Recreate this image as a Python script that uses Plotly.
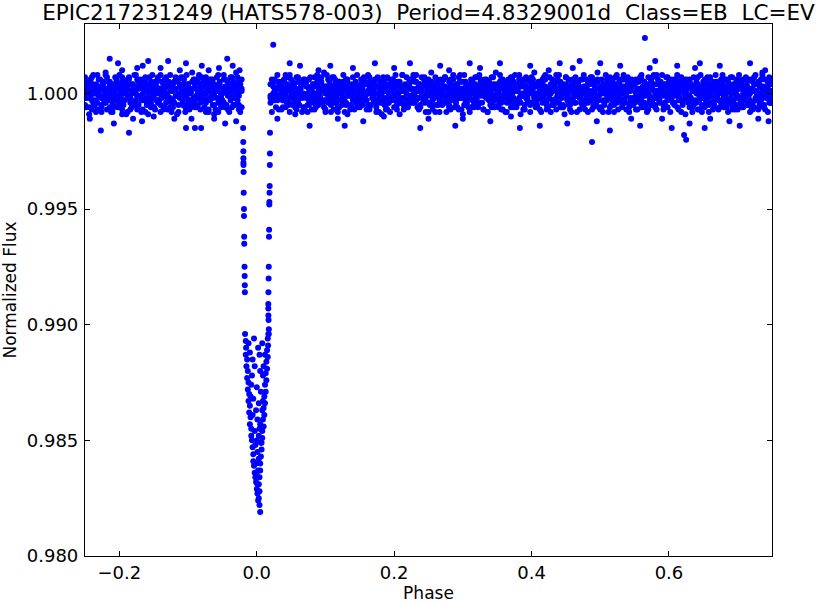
import plotly.graph_objects as go

# ---------------- data (phase in units of 1e-3, flux offsets in units of 1e-4) ----------------
band_phase_milli = [
    -250,-248,-246,-244,-242,-240,-238,-236,-234,-232,-230,-228,-226,-224,-222,-220,-218,-216,-214,-212,
    -210,-208,-206,-204,-202,-200,-198,-196,-194,-192,-190,-188,-186,-184,-182,-180,-178,-176,-174,-172,
    -170,-168,-166,-164,-162,-160,-158,-156,-154,-152,-150,-148,-146,-144,-142,-140,-138,-136,-134,-132,
    -130,-128,-126,-124,-122,-120,-118,-116,-114,-112,-110,-108,-106,-104,-102,-100,-98,-96,-94,-92,
    -90,-88,-86,-84,-82,-80,-78,-76,-74,-72,-70,-68,-66,-64,-62,-60,-58,-56,-54,-52,
    -50,-48,-46,-44,-42,-40,-38,-36,-34,-32,-30,-28,-26,-24,-22,
    20,22,24,26,28,30,32,34,36,38,40,42,44,46,48,50,52,54,56,58,
    60,62,64,66,68,70,72,74,76,78,80,82,84,86,88,90,92,94,96,98,
    100,102,104,106,108,110,112,114,116,118,120,122,124,126,128,130,132,134,136,138,
    140,142,144,146,148,150,152,154,156,158,160,162,164,166,168,170,172,174,176,178,
    180,182,184,186,188,190,192,194,196,198,200,202,204,206,208,210,212,214,216,218,
    220,222,224,226,228,230,232,234,236,238,240,242,244,246,248,250,252,254,256,258,
    260,262,264,266,268,270,272,274,276,278,280,282,284,286,288,290,292,294,296,298,
    300,302,304,306,308,310,312,314,316,318,320,322,324,326,328,330,332,334,336,338,
    340,342,344,346,348,350,352,354,356,358,360,362,364,366,368,370,372,374,376,378,
    380,382,384,386,388,390,392,394,396,398,400,402,404,406,408,410,412,414,416,418,
    420,422,424,426,428,430,432,434,436,438,440,442,444,446,448,450,452,454,456,458,
    460,462,464,466,468,470,472,474,476,478,480,482,484,486,488,490,492,494,496,498,
    500,502,504,506,508,510,512,514,516,518,520,522,524,526,528,530,532,534,536,538,
    540,542,544,546,548,550,552,554,556,558,560,562,564,566,568,570,572,574,576,578,
    580,582,584,586,588,590,592,594,596,598,600,602,604,606,608,610,612,614,616,618,
    620,622,624,626,628,630,632,634,636,638,640,642,644,646,648,650,652,654,656,658,
    660,662,664,666,668,670,672,674,676,678,680,682,684,686,688,690,692,694,696,698,
    700,702,704,706,708,710,712,714,716,718,720,722,724,726,728,730,732,734,736,738,
    740,742,744,746,748,750,
]

band_flux_a = [
    3,-2,5,-6,1,7,-4,0,-8,2,6,-1,-5,4,-3,8,-7,1,5,-2,
    -4,2,7,-1,-6,3,0,-9,5,-3,1,6,-2,-7,4,2,-5,8,-1,3,
    6,-3,0,4,-8,2,-5,7,1,-2,-6,5,3,-4,0,8,-1,-7,2,6,
    -2,5,-6,1,3,-4,7,-1,-8,4,2,-3,6,0,-5,3,-7,1,5,-2,
    4,-1,-6,7,2,-3,0,5,-8,3,-2,6,1,-5,4,-7,2,8,-4,0,
    -3,6,1,-5,3,-1,7,-6,2,4,-2,0,5,-8,1,-4,6,3,-3,2,
    5,-7,2,0,-3,6,-1,4,-5,8,1,-2,3,-6,7,-4,0,2,-8,5,
    -1,3,-5,6,2,-7,4,0,-2,5,-4,1,7,-3,-6,3,8,-1,2,-5,
    7,0,-4,2,-6,5,1,-3,4,-8,6,-1,3,-5,2,0,-7,4,1,-2,
    -6,4,1,-2,5,-3,0,7,-5,2,-1,6,-4,3,-8,1,5,-2,4,-7,
    2,-4,6,-1,3,-6,8,0,-3,5,-2,1,-7,4,2,-5,6,-1,-3,7,
    0,5,-2,-7,4,1,-4,6,-1,3,-8,2,5,-3,0,7,-5,1,-2,4,
    -5,2,7,-3,1,-6,4,-1,6,0,-4,3,-2,8,-7,5,1,-3,2,-1,
    4,-6,0,3,-2,7,-5,1,5,-4,2,-1,6,-8,3,0,-3,4,-6,2,
    1,-3,5,-7,6,-1,2,-4,0,4,-6,7,-2,3,-5,1,8,-4,-1,5,
    -7,3,-1,5,-4,2,6,-2,0,-5,4,1,-8,3,7,-3,2,-6,1,4,
    3,-5,2,8,-1,-4,5,0,-6,3,1,-2,6,-7,4,-3,0,5,-1,2,
    -2,6,-4,1,-7,3,0,4,-3,7,-5,2,-1,5,-6,1,3,-8,4,0,
    6,-1,3,-5,2,-8,4,1,-3,6,0,-4,7,-2,1,5,-6,2,-3,4,
    -4,1,5,-2,7,-6,0,3,-1,4,-7,2,6,-3,1,-5,8,0,-2,3,
    2,-7,4,0,-3,5,-1,6,-4,1,3,-6,2,-2,7,-5,0,4,-1,-3,
    5,-2,-6,3,1,-4,7,-1,2,-8,4,0,-3,6,-5,2,1,-7,3,5,
    -1,4,-3,6,-5,0,2,-6,5,1,-2,7,-4,3,-1,-7,4,2,-5,6,
    3,0,-5,2,-3,6,-7,1,4,-2,5,-4,0,8,-6,2,-1,3,-4,1,
    -3,
]

band_flux_b = [
    -5,1,4,-2,6,-7,0,3,-3,8,-1,2,-6,5,1,-4,7,-2,3,-8,
    2,-6,0,5,-3,4,-1,7,-5,1,3,-8,6,-2,0,4,-4,2,-7,5,
    -1,3,-7,2,6,-4,1,-2,5,0,-6,4,-3,7,2,-5,1,-1,6,-4,
    4,-3,2,-8,1,5,-1,6,-5,3,0,-2,7,-6,2,4,-4,1,-3,6,
    -6,2,5,-1,-4,7,3,-3,0,4,-7,1,6,-2,-5,3,1,-8,5,-1,
    1,-4,6,2,-7,0,4,-2,5,-5,3,7,-1,2,-6,4,-3,0,6,-2,
    -3,5,-1,4,-6,2,8,-4,1,-2,6,-5,3,0,-7,5,2,-1,4,-6,
    6,-2,3,-5,1,-3,0,7,-6,4,2,-1,5,-4,3,-8,1,6,-2,0,
    -4,7,-2,1,5,-6,3,0,-3,2,-5,6,1,-7,4,-1,2,5,-6,3,
    2,-1,-5,6,-3,4,1,-7,5,0,-2,3,-6,7,-4,2,0,-3,6,-5,
    -7,4,2,-3,6,-1,5,-5,0,3,-4,8,-2,1,-6,4,3,-1,2,-4,
    5,-3,1,4,-6,2,-2,7,-4,0,6,-1,3,-5,1,-8,4,2,-3,6,
    0,6,-4,2,-1,5,-7,3,1,-3,4,-6,7,-2,2,0,-5,5,-1,3,
    -2,3,5,-6,4,-1,1,-4,6,2,-7,3,0,5,-3,1,-6,7,-2,4,
    3,-5,-1,6,-2,4,-8,2,0,5,-3,1,-6,4,2,-4,6,-1,3,-7,
    6,1,-3,2,-5,7,0,-2,4,-6,3,-1,5,-4,1,6,-7,2,-2,0,
    -5,3,2,-4,6,-1,4,-6,1,0,7,-3,2,-5,5,-2,-1,3,-8,4,
    1,-2,6,-5,3,2,-4,0,5,-7,4,1,-3,6,-1,2,-6,4,0,-3,
    -3,5,-6,1,4,-2,7,-4,2,-1,3,-5,6,0,-7,4,1,-2,5,-4,
    4,-7,2,0,-3,6,-1,5,-5,3,1,-4,2,7,-2,-6,4,1,-3,5,
    -1,2,-4,7,-6,3,0,-2,4,-5,6,1,-3,5,-8,2,3,-1,6,-4,
    6,-3,1,-5,2,4,-7,3,0,-1,5,-6,2,4,-2,7,-4,1,-5,2,
    -2,4,-6,3,5,-1,-3,6,-4,2,0,-7,4,1,-5,3,6,-2,2,-6,
    3,-1,5,-4,1,-6,2,7,-3,0,4,-5,6,-2,3,-7,1,5,-1,-4,
    -4,
]

band_flux_c = [
    1,-2,0,3,-1,4,-3,2,0,-4,1,3,-2,5,-1,0,2,-3,4,-1,
    -2,0,3,-1,2,-4,1,5,-3,0,2,-1,4,-2,1,-5,3,0,-1,2,
    3,-1,-3,1,4,-2,0,2,-4,3,-1,1,5,-3,0,2,-2,4,-1,0,
    0,4,-2,1,-3,2,5,-1,0,-2,3,-4,1,2,-1,4,-3,0,2,-5,
    -3,2,1,-1,4,0,-2,3,-4,1,5,-3,2,0,-1,3,-2,1,4,-2,
    2,-4,3,0,-1,2,-3,4,1,-2,0,3,-5,1,2,-1,4,-3,0,1,
    -1,3,-2,5,0,-3,1,2,-4,3,-1,0,4,-2,1,-3,2,5,-1,0,
    4,-1,0,-3,2,1,-4,3,0,-1,5,-2,1,3,-3,0,2,-4,1,3,
    -2,1,4,-1,-3,3,0,-2,5,1,-4,2,0,-1,3,-3,4,1,-2,0,
    1,-3,2,4,-1,0,-5,2,3,-2,1,4,-3,0,2,-1,-4,3,1,-2,
    3,0,-2,1,5,-3,2,-1,0,4,-4,1,3,-2,0,2,-3,5,-1,1,
    -4,2,1,-2,3,0,-1,4,-3,2,1,-5,3,0,-2,4,1,-1,2,-3,
    0,-1,3,2,-4,1,4,-2,0,3,-3,1,-1,5,2,-2,0,3,-4,1,
    2,4,-3,0,1,-2,3,-4,2,0,-1,4,-2,1,3,-5,0,2,-1,3,
    -1,0,2,-3,4,1,-2,3,-1,-4,2,0,5,-3,1,2,-2,4,0,-1,
    3,-2,1,0,-4,3,2,-1,4,-3,0,1,-2,5,-1,3,-4,0,2,1,
    -3,1,4,-2,0,2,-1,3,-5,1,4,-2,0,3,-3,1,2,-4,0,3,
    1,-4,0,3,2,-1,5,-3,1,0,-2,4,2,-1,-3,3,0,1,-4,2,
    -2,3,1,-1,-3,4,0,2,-2,5,1,-3,3,0,-1,2,-4,1,3,-2,
    4,0,-3,2,1,-2,3,-4,0,1,3,-1,-5,2,4,-2,1,0,-3,3,
    0,2,-1,4,-3,1,-2,3,2,-4,0,5,-1,1,-3,2,4,-2,0,-1,
    -1,3,2,-4,1,0,4,-3,-1,2,3,-2,1,-5,0,4,-1,2,-3,1,
    2,-3,0,1,4,-2,-1,3,1,-4,2,0,-3,4,1,-1,3,-2,5,0,
    -3,1,3,-1,0,2,-4,4,-2,1,0,3,-1,2,-5,1,3,-2,0,4,
    1,
]

band_flux_d = [
    7,-6,2,-9,5,-3,8,-5,4,-7,1,6,-8,3,-4,9,-2,5,-6,0,
    -8,4,-3,6,-5,8,-1,-7,3,5,-9,2,7,-4,-6,1,8,-3,6,-5,
    5,-8,6,-2,7,-5,-9,4,-6,8,3,-7,0,6,-3,-8,5,2,-6,7,
    -7,3,8,-4,-6,5,2,-9,6,-1,7,-5,4,-8,8,-3,1,-6,9,-4,
    6,-5,-2,8,-7,1,5,-6,7,-3,-8,4,-1,6,-9,3,7,-4,2,-6,
    -4,8,-6,3,5,-8,-1,7,-5,2,9,-3,-7,4,6,-2,-8,5,1,-6,
    8,-2,4,-7,-3,6,-6,2,7,-8,3,5,-4,-9,1,7,-5,4,-2,6,
    -6,5,-8,2,7,-1,4,-7,-3,8,-5,6,2,-4,9,-7,3,-2,5,-8,
    3,-7,6,-4,-8,5,1,-5,8,-2,6,-9,4,-1,-6,7,2,-4,8,-3,
    -5,6,-3,7,-1,-7,8,-6,2,5,-4,3,-8,6,-2,4,-9,7,-5,1,
    7,-4,-8,3,6,-2,4,-7,5,-9,1,8,-5,-3,7,-6,2,5,-4,8,
    -3,8,-6,4,-5,7,-2,6,-8,1,5,-4,9,-7,3,-1,6,-5,-8,2,
    5,-1,7,-8,2,-5,6,-3,8,-6,-2,4,-7,5,1,-9,8,-4,3,-6,
    -8,6,2,-5,7,-3,-6,8,-1,4,-7,6,3,-8,5,-2,7,-5,-3,9,
    2,-6,8,-4,-7,3,5,-8,6,-2,7,-5,1,8,-6,4,-3,-9,6,-1,
    -5,7,-2,6,-8,4,-4,9,-6,3,5,-7,-1,6,-3,8,-5,2,7,-8,
    6,-3,5,-7,1,8,-6,-2,4,-9,7,3,-5,2,-8,6,-4,7,-1,5,
    -7,2,-5,8,-3,6,-8,4,7,-1,-6,5,-4,9,2,-7,6,-3,-5,8,
    4,-8,7,-2,6,-5,-3,8,-7,5,2,-6,8,-4,-1,7,-8,3,6,-5,
    -2,6,-7,5,-4,8,1,-6,3,-8,7,-3,5,-5,8,-1,-7,6,-4,2,
    8,-5,3,-6,7,-2,-8,5,-4,6,-1,8,-7,3,5,-4,6,-9,2,-3,
    -6,4,-8,7,-3,5,2,-7,8,-5,-2,6,-4,7,-8,3,-1,5,-6,8,
    5,-7,1,-4,8,-6,6,-3,-8,4,7,-5,2,-7,6,-2,8,-4,-6,3,
    -3,7,-5,6,-8,2,5,-6,8,-1,-7,4,-3,9,-5,6,-2,-8,7,-4,
    6,
]

# scattered points outside the dense band
outlier_phase_milli = [
    -243,-227,-214,-208,-202,-196,-186,-180,-174,-167,-166,-158,-150,-140,-129,-120,-112,-103,-103,-95,
    -90,-81,-80,-70,-62,-55,-46,-43,-35,-30,-25,
    24,30,48,63,77,90,107,118,128,140,155,172,185,200,223,238,250,267,280,289,
    300,310,325,340,354,370,383,398,412,425,441,452,460,470,488,495,500,514,529,545,
    558,565,572,580,590,604,612,622,625,630,638,645,652,660,674,688,703,718,730,740,745,
]
outlier_flux_e4 = [
    -11,-16,15,-13,13,10,-17,-11,11,-12,12,14,-10,11,14,-11,10,13,-15,-11,
    -15,-15,12,10,-11,11,-13,15,12,-12,10,
    21,-11,13,12,-14,10,12,-11,-14,11,-12,13,-10,11,13,-15,-11,12,10,-14,
    -11,13,11,-12,13,-10,-15,12,-14,10,13,-13,11,14,-21,-12,13,-16,12,-11,
    -14,24,11,14,-11,-15,12,-18,-20,-13,11,13,-15,-11,12,-12,-14,13,-11,10,-12,
]

# eclipse: ingress, egress and bottom of the primary eclipse
eclipse_phase_milli = [
    -19.8,-19.6,-19.5,-19.4,-19.4,-19.3,-19.2,-19.0,-18.6,-18.6,-18.3,-18.2,-17.8,-17.6,-17.4,-17.3,
    19.3,19.2,19.0,18.8,18.6,18.4,18.3,18.0,17.8,17.5,17.3,17.0,16.8,16.8,16.9,17.2,17.6,17.4,
    -17,-16,-15.5,-16,-14,-15,-13,-14,-12,-13,-11,-12,-10,-11,-9,-10,-8,-8,-7,-6,-5,-5,-4,-3,-2,-1,0,1,2,4,5,
    17,16,16.5,15,16,14,15,13,14,12,13,11,12,10,11,9,10,8,8,7,7,6,5,5,4,3,4,3,
    -10,-6,2,8,12,-3,5,9,-8,0,6,-5,3,8,-6,1,5,-3,3,6,-2,1,3,-1,2,0,1,-7,10,-12,-4,4,-9,9,-1,0,4,
]
eclipse_flux_e4 = [
    -15,-21,-25,-28,-30,-31,-34,-43,-50,-53,-62,-65,-75,-79,-83,-86,
    -17,-26,-31,-40,-43,-47,-48,-59,-62,-75,-80,-86,-91,-93,-96,-98,-102,-104,
    -104,-107,-110,-113,-115,-118,-120,-123,-125,-128,-130,-133,-135,-138,-140,-143,-145,-148,-150,-153,
    -156,-159,-161,-164,-166,-168,-171,-173,-176,-178,-181,
    -104,-106,-109,-111,-114,-116,-119,-121,-124,-126,-129,-131,-134,-136,-139,-141,-144,-146,-149,-151,
    -154,-157,-160,-163,-166,-169,-172,-175,
    -112,-115,-110,-108,-113,-118,-120,-122,-126,-127,-129,-132,-134,-137,-139,-141,-143,-146,-148,-151,
    -152,-155,-158,-160,-163,-165,-169,-122,-118,-108,-106,-113,-131,-133,-137,-150,-145,
]

title_text = "EPIC217231249 (HATS578-003)  Period=4.8329001d  Class=EB  LC=EV"
x_ticks = [-0.2, 0.0, 0.2, 0.4, 0.6]
y_ticks = [0.980, 0.985, 0.990, 0.995, 1.000]

# ---------------- build the point set ----------------
phase, flux = [], []
for lane in (band_flux_a, band_flux_b, band_flux_c, band_flux_d):
    for p, f in zip(band_phase_milli, lane):
        phase.append(p / 1000.0)
        flux.append(1.0 + f / 10000.0)
for p, f in zip(outlier_phase_milli, outlier_flux_e4):
    phase.append(p / 1000.0)
    flux.append(1.0 + f / 10000.0)
for p, f in zip(eclipse_phase_milli, eclipse_flux_e4):
    phase.append(p / 1000.0)
    flux.append(1.0 + f / 10000.0)

FONT = "DejaVu Sans, Verdana, sans-serif"

fig = go.Figure(go.Scatter(
    x=phase, y=flux, mode="markers",
    marker=dict(color="#0000ff", size=6, line=dict(width=0)),
    hoverinfo="skip", showlegend=False,
))

axis_common = dict(
    showgrid=False, zeroline=False, showline=True, linecolor="black", linewidth=1.2,
    mirror="allticks", ticks="inside", ticklen=5, tickwidth=1, tickcolor="black",
    tickfont=dict(family=FONT, size=18, color="black"),
)

fig.update_layout(
    width=830, height=603,
    margin=dict(l=85, r=58, t=24, b=47, autoexpand=False),
    paper_bgcolor="white", plot_bgcolor="white",
    title=dict(text=title_text, x=0.5, xref="paper", xanchor="center",
               y=0.9915, yref="container", yanchor="top",
               font=dict(family=FONT, size=21.5, color="black")),
    xaxis=dict(range=[-0.25, 0.75], tickvals=x_ticks, tickformat=".1f",
               title=dict(text="Phase", font=dict(family=FONT, size=17, color="black"), standoff=10),
               ticklabelstandoff=0, **axis_common),
    yaxis=dict(range=[0.980, 1.003], tickvals=y_ticks, tickformat=".3f",
               title=dict(text="Normalized Flux", font=dict(family=FONT, size=17, color="black"), standoff=10),
               ticklabelstandoff=2, **axis_common),
)

# remove the default 8px page margin so the figure fills the window exactly
fig.write_html("out.html", config={"displayModeBar": False},
               post_script="document.body.style.margin='0px';")
